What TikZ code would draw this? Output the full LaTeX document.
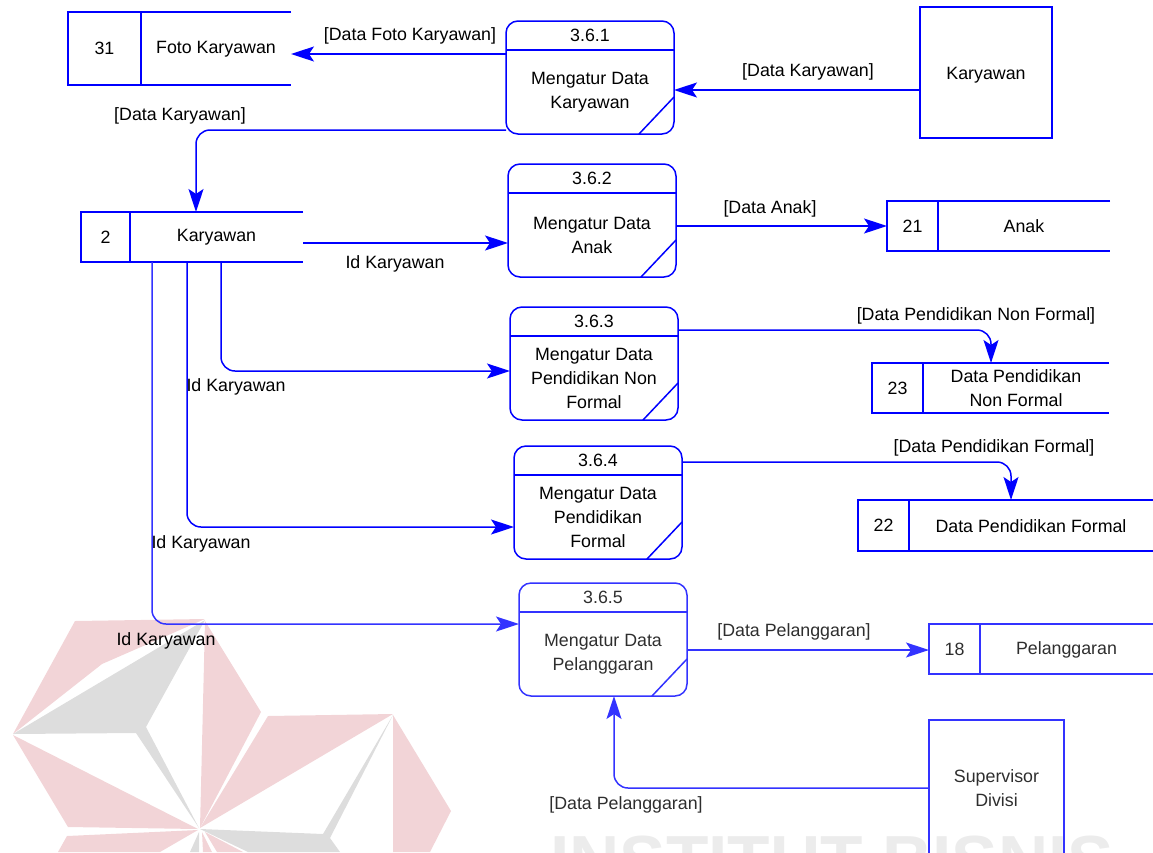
\documentclass[tikz,border=0pt]{standalone}
\usepackage{fontspec}
\setmainfont{Liberation Sans}
\usetikzlibrary{arrows.meta}
\definecolor{dfdblue}{RGB}{0,0,255}
\definecolor{dfdpink}{RGB}{242,212,215}
\definecolor{dfdgrey}{RGB}{221,221,221}
\definecolor{dfdmark}{RGB}{236,236,236}
\tikzset{
  dfdline/.style={draw=dfdblue,line width=1.5pt},
  flow/.style={dfdline,-{Stealth[length=23pt,width=15pt,inset=5pt]}},
  bentflow/.style={flow,rounded corners=14pt},
  procbox/.style={dfdline,rounded corners=12pt,minimum width=168pt,minimum height=113pt,inner sep=0pt,outer sep=0pt},
  storebox/.style={inner sep=0pt,outer sep=0pt},
  extbox/.style={dfdline,inner sep=0pt,outer sep=0pt}
}
\newcommand\dfdproc[5]{
  \node[procbox] (#1) at (#2,#3) {};
  \draw[dfdline] (#1.north west) ++(0,29) -- ++(168,0);
  \draw[dfdline] (#1.south east) ++(0,-37) -- ++(-35,37);
  \path (#1.north) ++(0,14.5) node (#1num) {#4};
  \path (#1.north) ++(0,71) node[align=center] (#1txt) {#5};
}
\newcommand\dfdstore[8]{
  \node[storebox,minimum width=#4pt-#2pt,minimum height=#6pt-#5pt] (#1) at ({(#2+#4)/2},{(#5+#6)/2}) {};
  \draw[dfdline] (#1.north east) -- (#1.north west) -- (#1.south west) -- (#1.south east);
  \draw[dfdline] (#3,#5) -- (#3,#6);
  \node (#1id) at ({(#2+#3)/2},{(#5+#6)/2}) {#7};
  \node[align=center] (#1txt) at ({(#3+#4)/2},{(#5+#6)/2+0.5}) {#8};
}
\begin{document}
\begin{tikzpicture}[x=1pt,y=-1pt,every node/.style={font=\fontsize{17.8}{24}\selectfont}]
  \useasboundingbox (0,0) rectangle (1153,852);
  \begin{scope}
    \clip (0,0) rectangle (1153,852);
    \fill[dfdpink] (75,621) -- (205,619) -- (102,664) -- (13,734) -- cycle;
    \fill[dfdgrey] (13,734) -- (205,620) -- (146,727) -- (199,828) -- (136,733) -- cycle;
    \fill[dfdpink] (205,621) -- (261,712) -- (200,828) -- cycle;
    \fill[dfdpink] (13,735) -- (198,829) -- (68,827) -- cycle;
    \fill[dfdpink] (268,716) -- (393,714) -- (200,828) -- cycle;
    \fill[dfdpink] (393,715) -- (451,811) -- (430,852) -- (393,852) -- cycle;
    \fill[dfdgrey] (200,829) -- (323,834) -- (393,715) -- (330,838) -- (340,852) -- (248,852) -- cycle;
    \fill[dfdpink] (67,836) -- (198,830) -- (160,852) -- (58,852) -- cycle;
    \fill[dfdgrey] (190,852) -- (199,832) -- (199,852) -- cycle;
    \fill[dfdpink] (202,832) -- (212,852) -- (203,852) -- cycle;
    \fill[dfdpink] (205,832) -- (243,852) -- (217,852) -- cycle;
    \node[anchor=base west,inner sep=0pt,text=dfdmark,font=\fontsize{69.5}{70}\bfseries\selectfont] (mark) at (550,884) {INSTITUT BISNIS};
  \end{scope}

  \dfdstore{s31}{68}{141}{291}{12}{85}{31}{Foto Karyawan}
  \dfdstore{s2}{81}{130}{303}{212}{262}{2}{Karyawan}
  \dfdstore{s21}{887}{938}{1110}{201}{251}{21}{Anak}
  \dfdstore{s23}{872}{923}{1109}{363}{413}{23}{Data Pendidikan\\Non Formal}
  \dfdstore{s22}{858}{909}{1153}{500}{551}{22}{Data Pendidikan Formal}

  \dfdproc{p361}{590}{77.5}{3.6.1}{Mengatur Data\\Karyawan}
  \dfdproc{p362}{592}{220.5}{3.6.2}{Mengatur Data\\Anak}
  \dfdproc{p363}{594}{363.5}{3.6.3}{Mengatur Data\\Pendidikan Non\\Formal}
  \dfdproc{p364}{598}{502.5}{3.6.4}{Mengatur Data\\Pendidikan\\Formal}

  \node[extbox,minimum width=132pt,minimum height=131pt] (e1) at (986,72.5) {};
  \node (e1txt) at (986,75.5) {Karyawan};

  \draw[flow] (p361.west |- 0,54) -- (s31.east |- 0,54);
  \draw[flow] (e1.west |- 0,90) -- (p361.east |- 0,90);
  \draw[bentflow] (p361.west |- 0,130) -| (s2.north -| 196,0);
  \draw[flow] (s2.east |- 0,243) -- (p362.west |- 0,243);
  \draw[flow] (p362.east |- 0,226) -- (s21.west |- 0,226);
  \draw[bentflow] (s2.south -| 221,0) |- (p363.west |- 0,371);
  \draw[bentflow] (s2.south -| 187,0) |- (p364.west |- 0,527);
  \draw[bentflow] (p363.east |- 0,330) -| (s23.north -| 991,0);
  \draw[bentflow] (p364.east |- 0,462) -| (s22.north -| 1011,0);

  \node (l1) at (410,36) {[Data Foto Karyawan]};
  \node (l2) at (808,72) {[Data Karyawan]};
  \node (l3) at (180,116) {[Data Karyawan]};
  \node (l4) at (395,264) {Id Karyawan};
  \node (l5) at (770,209) {[Data Anak]};
  \node (l6) at (976,316) {[Data Pendidikan Non Formal]};
  \node (l7) at (236,387) {Id Karyawan};
  \node (l8) at (994,448) {[Data Pendidikan Formal]};
  \node (l9) at (201,544) {Id Karyawan};

  \begin{scope}[every node/.append style={text=black!82}]
    \colorlet{dfdblue}{blue!80!white}
    \dfdstore{s18}{929}{980}{1153}{624}{674}{18}{Pelanggaran}
    \dfdproc{p365}{603}{639.5}{3.6.5}{Mengatur Data\\Pelanggaran}
    \node[extbox,minimum width=135pt,minimum height=136pt] (e2) at (996.5,788) {};
    \node[align=center] (e2txt) at (996.5,788) {Supervisor\\Divisi};
    \draw[bentflow] (s2.south -| 152,0) |- (p365.west |- 0,624);
    \draw[flow] (p365.east |- 0,650) -- (s18.west |- 0,650);
    \draw[bentflow] (e2.west |- 0,788) -| (p365.south -| 614,0);
    \node (l10) at (794,632) {[Data Pelanggaran]};
    \node (l11) at (626,805) {[Data Pelanggaran]};
    \node[text=black] (l12) at (166,641) {Id Karyawan};
  \end{scope}
\end{tikzpicture}
\end{document}
